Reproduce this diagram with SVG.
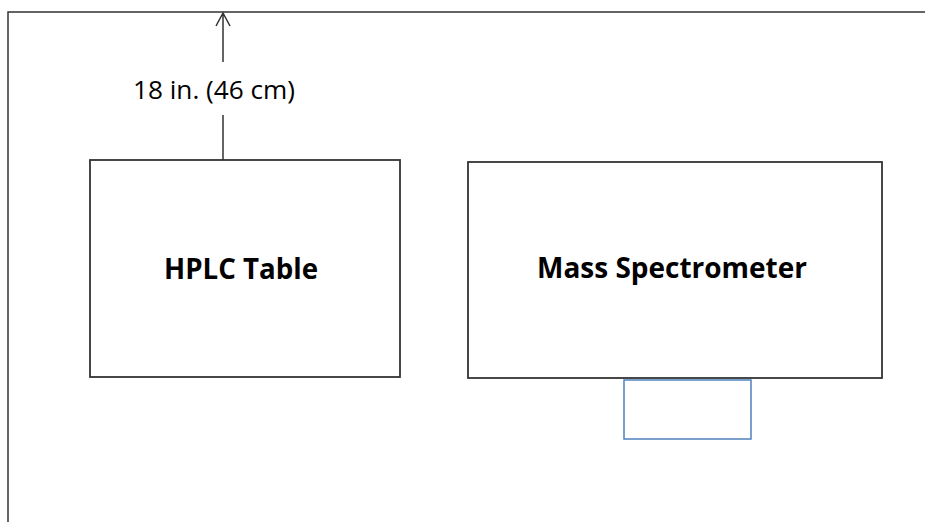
<svg xmlns="http://www.w3.org/2000/svg" width="925" height="522" viewBox="0 0 925 522">
<style>
.box{fill:#fff;stroke:#333;stroke-width:1.8}
.sub{fill:#fff;stroke:#4f81bd;stroke-width:1.5}
.lbl{font-family:"Open Sans","Liberation Sans",sans-serif;font-weight:bold;font-size:28px;fill:#000}
.dim{font-family:"Open Sans","Liberation Sans",sans-serif;font-size:26px;fill:#000}
.ln{fill:none;stroke:#333;stroke-width:1.5}
</style>
<rect width="925" height="522" fill="#fff"/>
<g id="room">
<path class="ln" d="M8 522 V12 H925" stroke-width="2"/>
</g>
<g id="hplc">
<rect class="box" x="90" y="160" width="310" height="217"/>
<text class="lbl" x="241" y="279" text-anchor="middle" textLength="154" lengthAdjust="spacingAndGlyphs">HPLC Table</text>
</g>
<g id="ms">
<rect class="box" x="468" y="162" width="414" height="216"/>
<text class="lbl" x="672" y="278" text-anchor="middle" textLength="270" lengthAdjust="spacingAndGlyphs">Mass Spectrometer</text>
</g>
<g id="ms-unit">
<rect class="sub" x="624" y="380" width="127" height="59"/>
</g>
<g id="connectors">
<path class="ln" d="M223 160 V115 M223 62 V13 M216 26 L223 13 L230 26"/>
<text class="dim" x="214" y="99" text-anchor="middle" textLength="162" lengthAdjust="spacingAndGlyphs">18 in. (46 cm)</text>
</g>
</svg>
